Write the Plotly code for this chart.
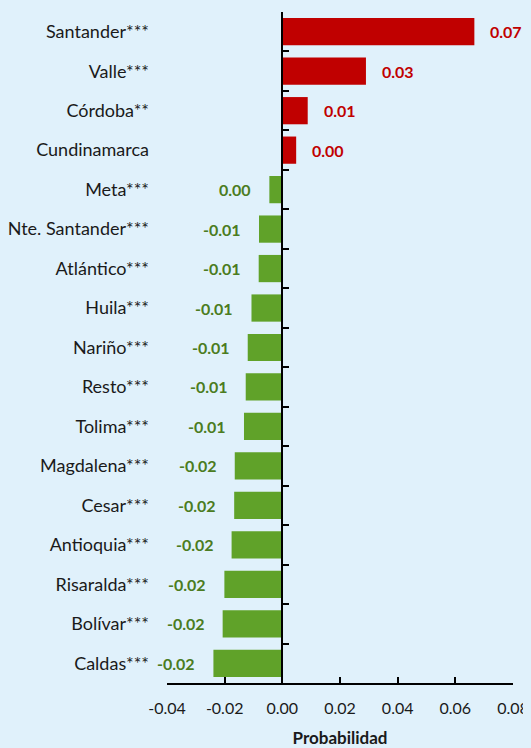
import plotly.graph_objects as go

categories = ["Santander***", "Valle***", "Córdoba**", "Cundinamarca", "Meta***",
              "Nte. Santander***", "Atlántico***", "Huila***", "Nariño***", "Resto***",
              "Tolima***", "Magdalena***", "Cesar***", "Antioquia***", "Risaralda***",
              "Bolívar***", "Caldas***"]
values = [0.0666, 0.0290, 0.0088, 0.0048, -0.0045,
          -0.0081, -0.0082, -0.0107, -0.0120, -0.0127,
          -0.0133, -0.0165, -0.0167, -0.0176, -0.0201,
          -0.0207, -0.0239]
x_ticks = [-0.04, -0.02, 0.0, 0.02, 0.04, 0.06, 0.08]

RED = "#c00000"
GREEN_BAR = "#60a229"
GREEN_TXT = "#4b7c21"
FONT = "Lato"
TXT = "#1a1a1a"
BG = "#e0f1fb"

bar_colors = [RED if v > 0 else GREEN_BAR for v in values]

fig = go.Figure()
fig.add_trace(go.Bar(
    x=values, y=categories, orientation="h", width=0.69,
    marker=dict(color=bar_colors, line=dict(width=0)),
    hoverinfo="skip",
))
# helper trace for the axis drawn at zero (yaxis2)
fig.add_trace(go.Scatter(x=[0], y=[0], yaxis="y2", mode="markers",
                         marker=dict(opacity=0), hoverinfo="skip", showlegend=False))

annotations = []
for c, v in zip(categories, values):
    pos = v > 0
    annotations.append(dict(
        x=v, y=c, xref="x", yref="y", text=f"{v:.2f}".replace("-0.00", "0.00"),
        showarrow=False, xanchor="left" if pos else "right",
        xshift=14 if pos else -16,
        font=dict(family=FONT, size=16, color=RED if pos else GREEN_TXT, weight="bold"),
    ))

n = len(categories)
fig.update_layout(
    width=523, height=740,
    margin=dict(l=159, r=18, t=4, b=65),
    paper_bgcolor=BG, plot_bgcolor="rgba(0,0,0,0)",
    showlegend=False,
    font=dict(family=FONT, size=16, color=TXT),
    annotations=annotations,
    xaxis=dict(
        range=[-0.04, 0.08], tickvals=x_ticks, ticktext=[f"{t:.2f}" for t in x_ticks],
        showgrid=False, zeroline=False, showline=True, linecolor="black", linewidth=2,
        ticks="inside", ticklen=6, tickwidth=2, tickcolor="black",
        ticklabelstandoff=10, automargin=False,
        tickfont=dict(family=FONT, size=16, color=TXT),
        title=dict(text="<b>Probabilidad</b>", font=dict(family=FONT, size=17, color=TXT), standoff=18),
    ),
    yaxis=dict(
        categoryorder="array", categoryarray=categories, range=[n - 0.5, -0.5],
        showgrid=False, zeroline=False, showline=False, ticks="",
        ticklabelstandoff=17, automargin=False,
        tickfont=dict(family=FONT, size=18, color=TXT),
    ),
    yaxis2=dict(
        overlaying="y", anchor="free", position=1 / 3, range=[n - 0.5, -0.5],
        tickvals=[i - 0.5 for i in range(n + 1)], showticklabels=False,
        showgrid=False, zeroline=False, showline=True, linecolor="black", linewidth=2,
        ticks="inside", ticklen=6, tickwidth=2, tickcolor="black", automargin=False,
    ),
)

fig.write_html("out.html", post_script=f"document.body.style.background='{BG}';")
